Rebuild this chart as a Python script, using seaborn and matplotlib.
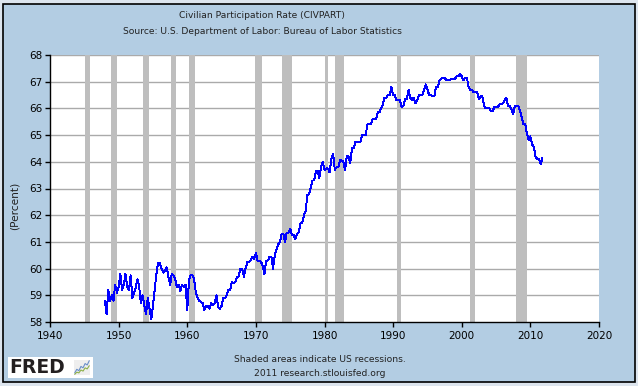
import numpy as np
import pandas as pd
import matplotlib
matplotlib.use('Agg')
import matplotlib.pyplot as plt
import seaborn as sns
from matplotlib.patches import Rectangle

# Datos: tasa de participacion civil, trimestral desde 1948
civpart = [
    58.8, 58.3, 59.2, 58.8,   # 1948
    59.0, 58.8, 59.4, 59.1,   # 1949
    59.3, 59.8, 59.2, 59.4,   # 1950
    59.8, 59.3, 59.2, 59.75,  # 1951
    58.9, 59.1, 59.3, 59.6,   # 1952
    59.3, 58.7, 59.0, 58.6,   # 1953
    58.3, 58.9, 58.5, 58.1,   # 1954
    58.6, 59.2, 59.8, 60.2,   # 1955
    60.2, 60.0, 59.85, 59.9,  # 1956
    60.05, 59.7, 59.4, 59.8,  # 1957
    59.75, 59.6, 59.3, 59.4,  # 1958
    59.15, 59.4, 59.3, 59.4,  # 1959
    58.45, 59.55, 59.75, 59.75,  # 1960
    59.6, 59.1, 58.9, 58.8,   # 1961
    58.75, 58.7, 58.45, 58.6,  # 1962
    58.6, 58.5, 58.7, 58.65,  # 1963
    58.7, 59.0, 58.55, 58.5,  # 1964
    58.6, 58.9, 58.9, 59.0,   # 1965
    59.2, 59.2, 59.5, 59.45,  # 1966
    59.5, 59.7, 59.7, 60.0,   # 1967
    60.0, 59.7, 60.0, 60.25,  # 1968
    60.25, 60.3, 60.45, 60.35,  # 1969
    60.6, 60.3, 60.3, 60.25,  # 1970
    60.1, 59.8, 60.3, 60.3,   # 1971
    60.45, 60.45, 60.0, 60.5,  # 1972
    60.7, 60.9, 61.0, 61.3,   # 1973
    61.3, 61.0, 61.35, 61.35,  # 1974
    61.5, 61.25, 61.25, 61.1,  # 1975
    61.3, 61.35, 61.7, 61.7,  # 1976
    62.0, 62.15, 62.75, 62.8,  # 1977
    63.05, 63.3, 63.3, 63.65,  # 1978
    63.65, 63.4, 63.8, 64.0,  # 1979
    63.7, 63.75, 63.75, 63.6,  # 1980
    64.1, 64.3, 63.7, 63.8,   # 1981
    63.8, 64.05, 64.05, 64.0,  # 1982
    63.7, 64.2, 64.2, 63.95,  # 1983
    64.5, 64.5, 64.75, 64.75,  # 1984
    64.75, 64.75, 65.0, 65.0,  # 1985
    65.0, 65.4, 65.4, 65.4,   # 1986
    65.6, 65.6, 65.6, 65.85,  # 1987
    65.85, 66.0, 66.15, 66.4,  # 1988
    66.4, 66.5, 66.5, 66.8,   # 1989
    66.5, 66.5, 66.3, 66.3,   # 1990
    66.3, 66.05, 66.1, 66.35,  # 1991
    66.35, 66.7, 66.4, 66.3,  # 1992
    66.4, 66.2, 66.3, 66.5,   # 1993
    66.5, 66.5, 66.7, 66.9,   # 1994
    66.7, 66.5, 66.5, 66.45,  # 1995
    66.45, 66.8, 66.8, 67.05,  # 1996
    67.1, 67.15, 67.15, 67.05,  # 1997
    67.05, 67.05, 67.1, 67.1,  # 1998
    67.1, 67.2, 67.2, 67.3,   # 1999
    67.2, 67.05, 67.15, 67.15,  # 2000
    66.8, 66.7, 66.7, 66.6,   # 2001
    66.6, 66.6, 66.35, 66.45,  # 2002
    66.45, 66.1, 66.0, 66.0,  # 2003
    66.0, 65.9, 65.9, 66.05,  # 2004
    66.05, 66.05, 66.15, 66.15,  # 2005
    66.2, 66.3, 66.4, 66.1,   # 2006
    66.1, 65.95, 65.8, 66.1,  # 2007
    66.1, 66.1, 65.9, 65.65,  # 2008
    65.4, 65.4, 65.05, 64.8,  # 2009
    64.95, 64.65, 64.55, 64.2,  # 2010
    64.1, 64.1, 63.9, 64.15,  # 2011
]

# Recesiones (NBER), en anios decimales
rec_start = [1945.1, 1948.9, 1953.5, 1957.6, 1960.3, 1969.9, 1973.85, 1980.0, 1981.5, 1990.5, 2001.2, 2007.9]
rec_end = [1945.8, 1949.8, 1954.4, 1958.3, 1961.1, 1970.9, 1975.2, 1980.5, 1982.9, 1991.2, 2001.9, 2009.5]

y_ticks = [58, 59, 60, 61, 62, 63, 64, 65, 66, 67, 68]
x_ticks = [1940, 1950, 1960, 1970, 1980, 1990, 2000, 2010, 2020]

# Icono FRED (decorativo)
icon_a = [1, 2, 1.6, 2.8, 2.4, 3.6, 3.2, 4.4]
icon_b = [0.6, 1.2, 1.0, 1.8, 1.5, 2.4, 2.1, 3.0]

dates = pd.date_range('1948-01-01', periods=len(civpart), freq='QS')
df = pd.DataFrame({'year': dates.year + (dates.month - 1) / 12.0, 'value': civpart})

sns.set_style('white')
plt.rcParams['font.family'] = ['DejaVu Sans']

W, H = 638, 386
fig = plt.figure(figsize=(W / 100, H / 100), dpi=100)
fig.patch.set_facecolor('#DDE5EE')

# Marco azul con borde negro (detras de todo)
fig.patches.append(Rectangle((3 / W, 1 - 382 / H), 632 / W, 378 / H, transform=fig.transFigure,
                             facecolor='#B3CDE3', edgecolor='black', linewidth=1.2, zorder=-2))

ax = fig.add_axes([50 / W, 1 - 322 / H, 549 / W, 267 / H])
ax.set_zorder(1)
ax.set_facecolor('white')

for s, e in zip(rec_start, rec_end):
    ax.axvspan(s, e, color='#BEBEBE', linewidth=0, zorder=1)

for yv in y_ticks[1:]:
    ax.axhline(yv, color='#AAAAAA', linewidth=1, zorder=0.5)

sns.lineplot(data=df, x='year', y='value', ax=ax, color='#0000FF', linewidth=0.7,
             antialiased=False, zorder=3)

ax.set_xlim(1940, 2020)
ax.set_ylim(58, 68)
ax.set_xticks(x_ticks)
ax.set_yticks(y_ticks)
ax.set_xlabel('')
ax.set_ylabel('')
ax.tick_params(axis='both', direction='out', length=3.5, width=1, colors='black',
               labelsize=7.5, pad=2)
ax.tick_params(axis='x', pad=3)
ax.tick_params(left=True, bottom=True)
for side in ['top', 'right']:
    ax.spines[side].set_visible(False)
for side in ['left', 'bottom']:
    ax.spines[side].set_color('black')
    ax.spines[side].set_linewidth(1)

# Textos
fig.text(262 / W, 1 - 16 / H, 'Civilian Participation Rate (CIVPART)', ha='center', va='center',
         fontsize=6.6, color='#222222')
fig.text(262 / W, 1 - 31 / H, 'Source: U.S. Department of Labor: Bureau of Labor Statistics',
         ha='center', va='center', fontsize=6.6, color='#222222')
fig.text(15 / W, 1 - 206 / H, '(Percent)', rotation=90, ha='center', va='center',
         fontsize=7.6, color='#222222')
fig.text(320 / W, 1 - 360 / H, 'Shaded areas indicate US recessions.', ha='center', va='center',
         fontsize=6.6, color='#222222')
fig.text(320 / W, 1 - 373 / H, '2011 research.stlouisfed.org', ha='center', va='center',
         fontsize=6.6, color='#222222')

# Logo FRED
fig.patches.append(Rectangle((8 / W, 1 - 378 / H), 85 / W, 21 / H, transform=fig.transFigure,
                             facecolor='white', edgecolor='none', zorder=-1))
fig.text(9 / W, 1 - 367.5 / H, 'FRED', ha='left', va='center', fontsize=13.5,
         fontweight='bold', color='#231F20')
icon = fig.add_axes([74 / W, 1 - 375 / H, 16 / W, 15 / H])
icon.set_zorder(2)
icon.plot(icon_a, color='#6A8FC8', linewidth=0.8)
icon.plot(icon_b, color='#8DB04A', linewidth=0.8)
icon.set_facecolor('#EEEEEE')
icon.set_xticks([])
icon.set_yticks([])
for sp in icon.spines.values():
    sp.set_visible(False)

fig.savefig('out.png', dpi=100)
